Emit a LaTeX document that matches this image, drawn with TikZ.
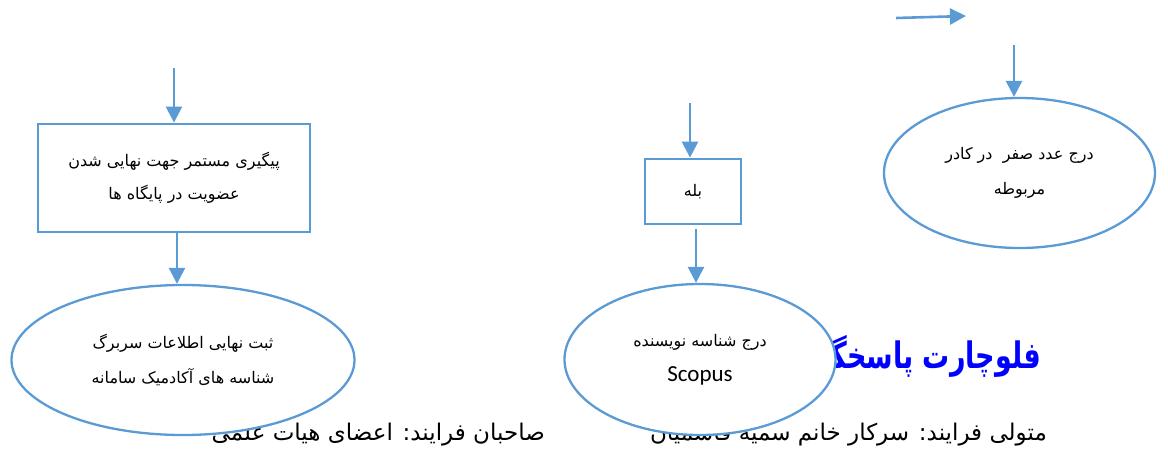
\documentclass[tikz,border=0pt]{standalone}
\usepackage{fontspec}
\usetikzlibrary{shapes.geometric,arrows.meta}
\TeXXeTstate=1
\newfontfamily\arfont[Script=Arabic]{DejaVu Sans}
\newfontfamily\latfont{Carlito}
\definecolor{lineblue}{HTML}{5B9BD5}
\definecolor{titleblue}{HTML}{0000FF}
\tikzset{
  flowline/.style={draw=lineblue,line width=2.6pt,-{Triangle[length=16pt,width=16pt]}},
  procbox/.style={rectangle,draw=lineblue,line width=2.8pt,fill=white,inner sep=0pt,align=center,
    font=\arfont\fontsize{16}{33}\selectfont},
  termell/.style={ellipse,draw=lineblue,line width=2.3pt,fill=white,inner sep=0pt,align=center,
    font=\arfont\fontsize{16}{35}\selectfont},
  titletext/.style={font=\arfont\bfseries\fontsize{27}{30}\selectfont,text=titleblue,inner sep=0pt},
  foottext/.style={font=\arfont\fontsize{23}{26}\selectfont,inner sep=0pt},
}
\begin{document}
\begin{tikzpicture}[x=1pt,y=-1pt]
\useasboundingbox (0,0) rectangle (1168,450);
% texts lying under the ellipses
\node[titletext,anchor=east] (title) at (1041,356) {\scalebox{1}[1.35]{\beginR فلوچارت پاسخگ^^^^200d\endR}};
\node[foottext,anchor=base east] (owner) at (1047,440) {\beginR متولی فرایند: سرکار خانم سمیه قاسمیان\endR};
\node[foottext,anchor=base east] (members) at (545,440) {\beginR صاحبان فرایند: اعضای هیات علمی\endR};
% left column
\node[procbox,minimum width=272pt,minimum height=108pt] (b1) at (174,178)
  {\beginR پیگیری مستمر جهت نهایی شدن\endR\\\beginR عضویت در پایگاه ها\endR};
\node[termell,minimum width=343pt,minimum height=150pt] (e1) at (183,360)
  {\beginR ثبت نهایی اطلاعات سربرگ\endR\\\beginR شناسه های آکادمیک سامانه\endR};
\coordinate (s1) at (174,68);
\draw[flowline] (s1) -- (b1.north);
\draw[flowline] ([xshift=3pt]b1.south) -- ([xshift=3pt]b1.south |- e1.north);
% middle column
\node[procbox,minimum width=96pt,minimum height=65pt] (b2) at (693,191.5) {\beginR بله\endR};
\node[termell,minimum width=271pt,minimum height=151pt] (e2) at (700,359.5)
  {\beginR درج شناسه نویسنده\endR\\{\latfont\fontsize{23}{35}\selectfont Scopus}};
\coordinate (s2) at (690,103);
\draw[flowline] (s2) -- (s2 |- b2.north);
\draw[flowline] ([xshift=3pt,yshift=-4pt]b2.south) -- ([xshift=3pt]b2.south |- e2.north);
% right column
\node[termell,minimum width=271pt,minimum height=150pt] (e3) at (1019.5,173)
  {\beginR درج عدد صفر\ \ در کادر\endR\\\beginR مربوطه\endR};
\coordinate (s3) at (1014,45);
\draw[flowline] (s3) -- (s3 |- e3.north);
\coordinate (a1) at (896,18);
\coordinate (a2) at (966,16);
\draw[flowline] (a1) -- (a2);
\end{tikzpicture}
\end{document}
